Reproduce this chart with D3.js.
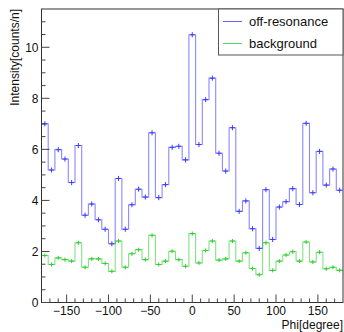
<!DOCTYPE html>
<html><head><meta charset="utf-8">
<script src="https://cdn.jsdelivr.net/npm/d3@7"></script>
<style>html,body{margin:0;padding:0;background:#fff;}svg{display:block;}</style>
</head><body>
<script>
// Bin centres (degrees), bin width 8 degrees
const phiCenters = [-176,-168,-160,-152,-144,-136,-128,-120,-112,-104,-96,-88,-80,-72,-64,-56,-48,-40,-32,-24,-16,-8,0,8,16,24,32,40,48,56,64,72,80,88,96,104,112,120,128,136,144,152,160,168,176];
const binWidth = 8;
const offResonance = [7.0,5.19,5.99,5.62,4.70,6.15,3.42,3.86,3.24,2.87,2.30,4.86,2.87,3.83,4.44,4.13,6.65,4.11,4.62,6.08,6.12,5.59,10.49,6.19,7.95,8.79,5.85,5.15,6.85,3.57,3.98,2.89,2.12,4.42,2.47,3.74,3.95,4.46,3.84,7.02,4.30,5.92,4.60,5.23,4.40];
const background = [1.84,1.49,1.75,1.68,1.62,2.34,1.38,1.71,1.71,1.53,1.22,2.41,1.38,1.91,2.07,1.68,2.63,1.49,1.62,2.01,1.68,1.42,2.70,1.55,2.04,2.41,1.66,1.71,2.41,1.62,1.95,1.33,1.09,2.34,1.26,1.62,1.86,1.99,1.62,2.37,1.59,1.97,1.32,1.38,1.26];
const offErr = 0.1, bgErr = 0.08;
const xMajor = [-150,-100,-50,0,50,100,150];
const xMinor = [-170,-160,-140,-130,-120,-110,-90,-80,-70,-60,-40,-30,-20,-10,10,20,30,40,60,70,80,90,110,120,130,140,160,170];
const yMajor = [0,2,4,6,8,10];
const yMinor = [0.5,1,1.5,2.5,3,3.5,4.5,5,5.5,6.5,7,7.5,8.5,9,9.5,10.5,11];
const seriesNames = ["off-resonance","background"];

const W = 344, H = 332;
const L = 41.5, R = 343, T = 9, B = 302.5;
const svg = d3.select("body").append("svg").attr("width", W).attr("height", H)
  .style("font-family", "'Liberation Sans', Arial, sans-serif");

const x = d3.scaleLinear().domain([-180,180]).range([L, R]);
const y = d3.scaleLinear().domain([0,11.5]).range([B, T]);

const blue = "#3b3bff", green = "#2fcf2f";

function stepPath(vals){
  let p = "";
  vals.forEach((v,i)=>{
    const x0 = x(phiCenters[i]-binWidth/2), x1 = x(phiCenters[i]+binWidth/2);
    p += (i===0 ? "M"+x0+","+y(v) : "V"+y(v)) + "H"+x1;
  });
  return p;
}

const plot = svg.append("g");
function drawSeries(vals, err, col){
  plot.append("path").attr("d", stepPath(vals)).attr("fill","none")
    .attr("stroke", col).attr("stroke-width", 1.1).attr("stroke-opacity", 0.6);
  const g = plot.append("g").attr("stroke", col).attr("stroke-width", 1);
  vals.forEach((v,i)=>{
    const cx = x(phiCenters[i]);
    g.append("line").attr("x1",cx).attr("x2",cx).attr("y1",y(v-err)).attr("y2",y(v+err));
    g.append("line").attr("x1",Math.max(L,cx-2.5)).attr("x2",Math.min(R,cx+2.5)).attr("y1",y(v)).attr("y2",y(v));
  });
}
drawSeries(offResonance, offErr, blue);
drawSeries(background, bgErr, green);

// frame
svg.append("rect").attr("x",L).attr("y",T).attr("width",R-L).attr("height",B-T)
  .attr("fill","none").attr("stroke","#333").attr("stroke-width",1);

// axes ticks (inside)
const ax = svg.append("g").attr("stroke","#444").attr("stroke-width",1);
yMajor.forEach(v=>ax.append("line").attr("x1",L).attr("x2",L+8).attr("y1",y(v)).attr("y2",y(v)));
yMinor.forEach(v=>ax.append("line").attr("x1",L).attr("x2",L+4).attr("y1",y(v)).attr("y2",y(v)));
xMajor.forEach(v=>ax.append("line").attr("x1",x(v)).attr("x2",x(v)).attr("y1",B).attr("y2",B-8));
xMinor.forEach(v=>ax.append("line").attr("x1",x(v)).attr("x2",x(v)).attr("y1",B).attr("y2",B-4));

// tick labels
svg.append("g").selectAll("text").data(yMajor).join("text")
  .attr("x", 38.5).attr("y", d=>y(d)+4.3).attr("text-anchor","end")
  .attr("font-size",12).attr("fill","#111").text(d=>d);
svg.append("g").selectAll("text").data(xMajor).join("text")
  .attr("x", d=>x(d)).attr("y", 315.3).attr("text-anchor","middle")
  .attr("font-size",12).attr("fill","#111").text(d=>d<0 ? "\u2212"+Math.abs(d) : d);

// axis titles
svg.append("text").attr("x",343).attr("y",328.8).attr("text-anchor","end")
  .attr("font-size",12).attr("fill","#111").text("Phi[degree]");
svg.append("text").attr("transform","translate(19,9) rotate(-90)").attr("text-anchor","end")
  .attr("font-size",12).attr("fill","#111").text("Intensity[counts/n]");

// legend
const lg = svg.append("g");
lg.append("rect").attr("x",218.5).attr("y",9).attr("width",343-218.5).attr("height",46)
  .attr("fill","#fff").attr("stroke","#555").attr("stroke-width",1);
[[blue, 21.5],[green, 43.5]].forEach((d,i)=>{
  lg.append("line").attr("x1",223).attr("x2",242).attr("y1",d[1]).attr("y2",d[1])
    .attr("stroke",d[0]).attr("stroke-width",1).attr("stroke-opacity",0.8);
  lg.append("text").attr("x",249).attr("y",d[1]+4.5).attr("font-size",13).attr("fill","#111").text(seriesNames[i]);
});
</script>
</body></html>
